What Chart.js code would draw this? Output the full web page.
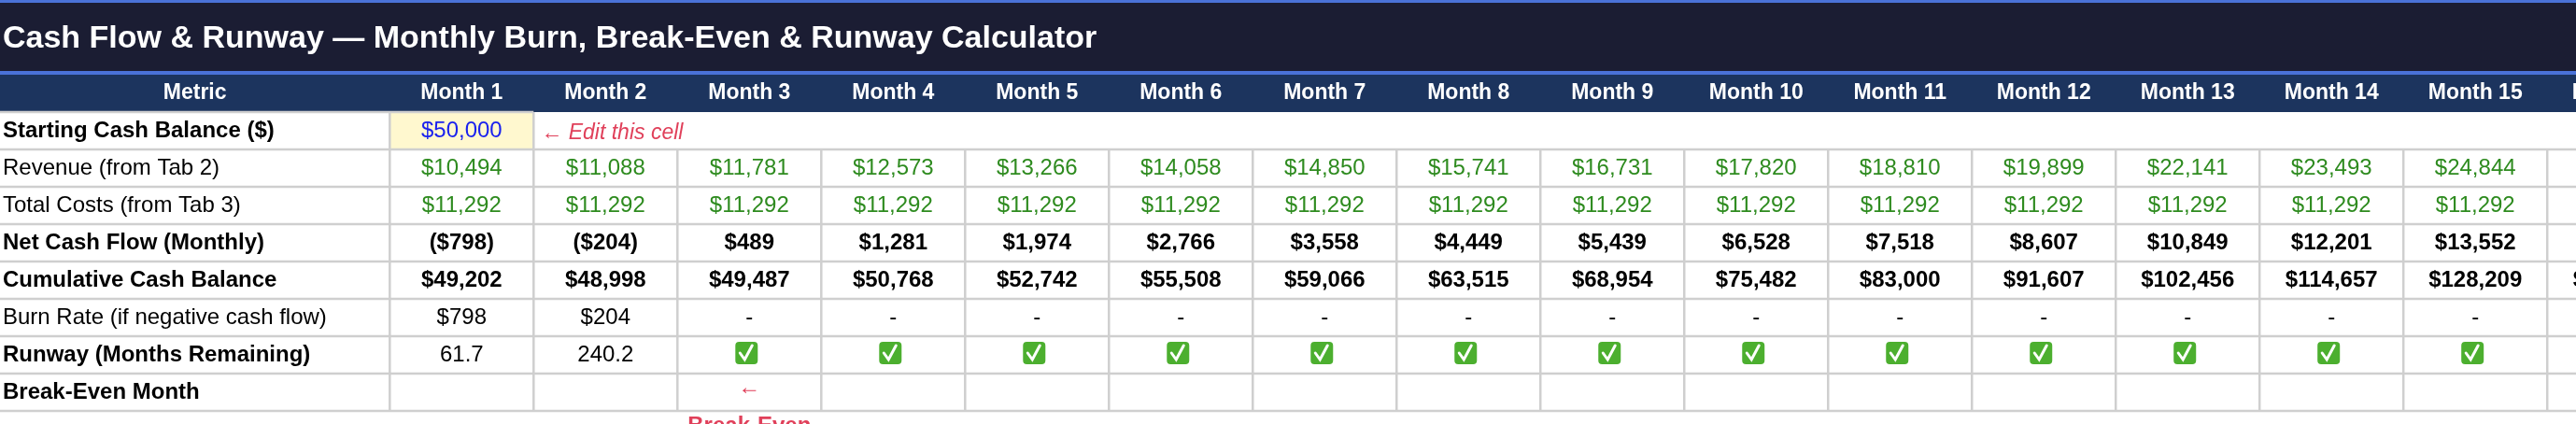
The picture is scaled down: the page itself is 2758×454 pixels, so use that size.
<!DOCTYPE html>
<html>
<head>
<meta charset="utf-8">
<script src="https://cdn.jsdelivr.net/npm/chart.js@4.4.1/dist/chart.umd.min.js"></script>
<style>
  html, body { margin: 0; padding: 0; background: #fff; }
  #wrap { width: 2758px; height: 454px; }
</style>
</head>
<body>
<div id="wrap"><canvas id="tabla"></canvas></div>
<script>
// Datos de la hoja
const titulo = 'Cash Flow & Runway — Monthly Burn, Break-Even & Runway Calculator';
const meses = ['Month 1','Month 2','Month 3','Month 4','Month 5','Month 6','Month 7','Month 8',
  'Month 9','Month 10','Month 11','Month 12','Month 13','Month 14','Month 15','Month 16'];
const metricas = ['Starting Cash Balance ($)','Revenue (from Tab 2)','Total Costs (from Tab 3)',
  'Net Cash Flow (Monthly)','Cumulative Cash Balance','Burn Rate (if negative cash flow)',
  'Runway (Months Remaining)','Break-Even Month'];
const metricaNegrita = [true, false, false, true, true, false, true, true];
const cajaInicial = 50000;
const ingresos = [10494,11088,11781,12573,13266,14058,14850,15741,16731,17820,18810,19899,22141,23493,24844,26196];
const costos = [11292,11292,11292,11292,11292,11292,11292,11292,11292,11292,11292,11292,11292,11292,11292,11292];
const flujoNeto = [-798,-204,489,1281,1974,2766,3558,4449,5439,6528,7518,8607,10849,12201,13552,14904];
const acumulado = [49202,48998,49487,50768,52742,55508,59066,63515,68954,75482,83000,91607,102456,114657,128209,143113];
const quema = [798,204,null,null,null,null,null,null,null,null,null,null,null,null,null,null];
const runway = [61.7,240.2,null,null,null,null,null,null,null,null,null,null,null,null,null,null];
const mesEquilibrio = 3;

const dinero = v => (v < 0 ? '($' + Math.abs(v).toLocaleString('en-US') + ')' : '$' + v.toLocaleString('en-US'));

// Columna de métricas = 2.71 unidades de mes; filas en unidades de 40px
const anchoMetrica = 2.71;

function celda(ctx, sx, sy, c0, c1, r0, r1, fondo) {
  const x0 = sx.getPixelForValue(c0), x1 = sx.getPixelForValue(c1);
  const y0 = sy.getPixelForValue(r0), y1 = sy.getPixelForValue(r1);
  if (fondo) { ctx.fillStyle = fondo; ctx.fillRect(x0, y0, x1 - x0, y1 - y0); }
  return { x0, x1, y0, y1, cx: (x0 + x1) / 2, cy: (y0 + y1) / 2 };
}

function texto(ctx, t, x, y, font, color, align) {
  ctx.font = font; ctx.fillStyle = color; ctx.textAlign = align || 'center';
  ctx.textBaseline = 'middle'; ctx.fillText(t, x, y);
}

function check(ctx, cx, cy) {
  const s = 24, x = cx - s / 2, y = cy - s / 2;
  ctx.fillStyle = '#4caf2f';
  ctx.beginPath(); ctx.roundRect(x, y, s, s, 4); ctx.fill();
  ctx.strokeStyle = '#fff'; ctx.lineWidth = 3; ctx.lineCap = 'round';
  ctx.beginPath(); ctx.moveTo(x + 5, y + 12); ctx.lineTo(x + 10, y + 19); ctx.lineTo(x + 18, y + 4); ctx.stroke();
}

const pluginTabla = {
  id: 'tabla',
  afterDraw(chart) {
    const ctx = chart.ctx, sx = chart.scales.x, sy = chart.scales.y;
    const fuente = '24px "Liberation Sans", Arial, sans-serif';
    const negrita = 'bold 24px "Liberation Sans", Arial, sans-serif';
    const n = meses.length;
    ctx.save();
    // barra de título
    let c = celda(ctx, sx, sy, -anchoMetrica, n, 0, 2, '#1b1d33');
    ctx.fillStyle = '#4a72d8';
    ctx.fillRect(c.x0, c.y0, c.x1 - c.x0, 3);
    ctx.fillRect(c.x0, c.y1 - 4, c.x1 - c.x0, 4);
    texto(ctx, titulo, c.x0 + 3, sy.getPixelForValue(1.05), 'bold 34px "Liberation Sans", Arial, sans-serif', '#fff', 'left');
    // encabezado
    c = celda(ctx, sx, sy, -anchoMetrica, n, 2, 3, '#1c345e');
    texto(ctx, 'Metric', sx.getPixelForValue(-anchoMetrica / 2), c.cy, 'bold 23px "Liberation Sans", Arial, sans-serif', '#fff');
    meses.forEach((m, i) => {
      const k = celda(ctx, sx, sy, i, i + 1, 2, 3);
      texto(ctx, m, k.cx, k.cy, 'bold 23px "Liberation Sans", Arial, sans-serif', '#fff');
    });
    // celda editable
    c = celda(ctx, sx, sy, 0, 1, 3, 4, '#fff8cf');
    texto(ctx, dinero(cajaInicial), c.cx, c.cy, fuente, '#1a22ee');
    texto(ctx, '← Edit this cell', c.x1 + 8, c.cy + 3, 'italic 23px "Liberation Sans", Arial, sans-serif', '#e0405a', 'left');
    // rejilla
    ctx.strokeStyle = '#cfcfcf'; ctx.lineWidth = 2.5;
    for (let r = 3; r <= 11; r++) {
      const y = sy.getPixelForValue(r);
      ctx.beginPath();
      ctx.moveTo(sx.getPixelForValue(-anchoMetrica), y);
      ctx.lineTo(sx.getPixelForValue(r === 3 ? 1 : n), y);
      ctx.stroke();
    }
    for (let i = 0; i <= n; i++) {
      const x = sx.getPixelForValue(i);
      ctx.beginPath();
      ctx.moveTo(x, sy.getPixelForValue(i <= 1 ? 3 : 4));
      ctx.lineTo(x, sy.getPixelForValue(11));
      ctx.stroke();
    }
    // métricas
    metricas.forEach((m, r) => {
      texto(ctx, m, sx.getPixelForValue(-anchoMetrica) + 3, sy.getPixelForValue(3.5 + r),
        metricaNegrita[r] ? negrita : fuente, '#000', 'left');
    });
    // valores
    for (let i = 0; i < n; i++) {
      const cx = sx.getPixelForValue(i + 0.5);
      const y = r => sy.getPixelForValue(r + 0.5);
      texto(ctx, dinero(ingresos[i]), cx, y(4), fuente, '#2e8b1f');
      texto(ctx, dinero(costos[i]), cx, y(5), fuente, '#2e8b1f');
      texto(ctx, dinero(flujoNeto[i]), cx, y(6), negrita, '#000');
      texto(ctx, dinero(acumulado[i]), cx, y(7), negrita, '#000');
      texto(ctx, quema[i] === null ? '-' : dinero(quema[i]), cx, y(8), fuente, '#000');
      if (runway[i] === null) check(ctx, cx - 3, y(9) - 2);
      else texto(ctx, runway[i].toFixed(1), cx, y(9), fuente, '#000');
      if (i + 1 === mesEquilibrio) {
        texto(ctx, '←', cx, y(10) - 5, fuente, '#e0405a');
        texto(ctx, 'Break-Even', cx, y(10) + 36, negrita, '#e0405a');
      }
    }
    ctx.restore();
  }
};

new Chart(document.getElementById('tabla').getContext('2d'), {
  type: 'scatter',
  data: { datasets: [] },
  options: {
    responsive: true,
    maintainAspectRatio: false,
    animation: false,
    layout: { padding: 0 },
    plugins: { legend: { display: false }, tooltip: { enabled: false } },
    scales: {
      x: { type: 'linear', min: -anchoMetrica, max: 15.2, display: false },
      y: { type: 'linear', min: 0, max: 11.35, reverse: true, display: false }
    }
  },
  plugins: [pluginTabla]
});
</script>
</body>
</html>
